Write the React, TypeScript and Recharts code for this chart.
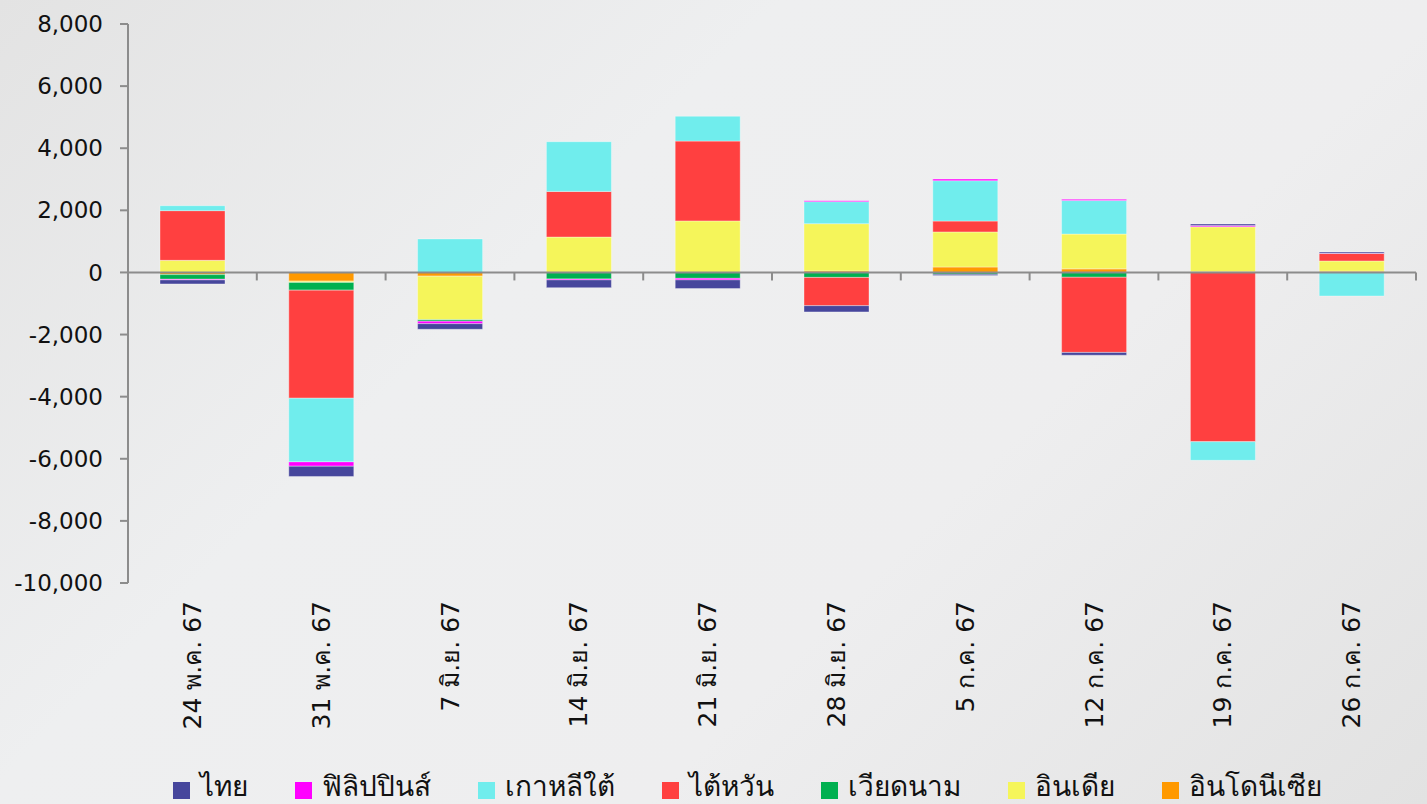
import React from 'react'
import { Bar, BarChart, ReferenceLine, XAxis, YAxis } from 'recharts'

if (typeof document !== 'undefined') document.body.style.margin = '0'

const weeks = [
  '24 พ.ค. 67',
  '31 พ.ค. 67',
  '7 มิ.ย. 67',
  '14 มิ.ย. 67',
  '21 มิ.ย. 67',
  '28 มิ.ย. 67',
  '5 ก.ค. 67',
  '12 ก.ค. 67',
  '19 ก.ค. 67',
  '26 ก.ค. 67',
]

// net flows per market
const thai = [-130, -330, -180, -250, -280, -200, -40, -90, 50, 40]
const philippines = [-20, -140, -80, -30, -50, 30, 50, 40, 40, 10]
const korea = [160, -2050, 1080, 1600, 800, 710, 1300, 1080, -600, -760]
const taiwan = [1600, -3480, 0, 1470, 2570, -910, 350, -2420, -5450, 240]
const vietnam = [-150, -250, -50, -210, -190, -160, -60, -155, 0, 0]
const india = [390, -40, -1400, 1140, 1660, 1520, 1130, 1120, 1450, 330]
const indonesia = [-70, -280, -120, 0, 0, 50, 175, 115, 20, 40]

const yTicks = [-10000, -8000, -6000, -4000, -2000, 0, 2000, 4000, 6000, 8000]

// legend order (left to right)
const series = [
  { key: 'thai', name: 'ไทย', color: '#46469c', values: thai },
  { key: 'philippines', name: 'ฟิลิปปินส์', color: '#ff00ff', values: philippines },
  { key: 'korea', name: 'เกาหลีใต้', color: '#70eded', values: korea },
  { key: 'taiwan', name: 'ไต้หวัน', color: '#ff4040', values: taiwan },
  { key: 'vietnam', name: 'เวียดนาม', color: '#00b050', values: vietnam },
  { key: 'india', name: 'อินเดีย', color: '#f5f55a', values: india },
  { key: 'indonesia', name: 'อินโดนีเซีย', color: '#ff9900', values: indonesia },
]

const data = weeks.map((week, i) => {
  const row: Record<string, string | number> = { week }
  series.forEach((s) => {
    row[s.key] = s.values[i]
  })
  return row
})

const FONT = "Tahoma, 'DejaVu Sans', 'Noto Sans', sans-serif"

function WeekTick(props: any) {
  const { x, y, payload } = props
  const ty = y + 10
  return (
    <text
      x={x}
      y={ty}
      transform={`rotate(-90 ${x} ${ty})`}
      textAnchor="end"
      dominantBaseline="central"
      fontSize={25}
      fontFamily={FONT}
      fill="#111"
    >
      {payload.value}
    </text>
  )
}

// the category axis sits on zero, with ticks between the weeks
function ZeroAxis(props: any) {
  const { x1, y1, x2 } = props
  const n = weeks.length
  const marks = []
  for (let i = 1; i <= n; i++) {
    const x = x1 + ((x2 - x1) * i) / n
    marks.push(<line key={i} x1={x} y1={y1} x2={x} y2={y1 + 8} stroke="#8c8c8c" strokeWidth={2} />)
  }
  return (
    <g>
      <line x1={x1} y1={y1} x2={x2} y2={y1} stroke="#8c8c8c" strokeWidth={2} />
      {marks}
    </g>
  )
}

export default function App() {
  return (
    <div
      style={{
        position: 'relative',
        width: 1427,
        height: 804,
        overflow: 'hidden',
        background: 'linear-gradient(135deg, #e3e3e3 0%, #eeeff0 35%, #eeeeef 65%, #e2e2e2 100%)',
        fontFamily: FONT,
      }}
    >
      <BarChart
        width={1427}
        height={804}
        data={data}
        stackOffset="sign"
        barSize={65}
        margin={{ top: 24, right: 11, bottom: 0, left: 0 }}
      >
        <XAxis
          dataKey="week"
          axisLine={false}
          tickLine={false}
          interval={0}
          height={221}
          tick={<WeekTick />}
        />
        <YAxis
          domain={[-10000, 8000]}
          ticks={yTicks}
          width={128}
          tickSize={8}
          tickMargin={17}
          axisLine={{ stroke: '#8c8c8c', strokeWidth: 2 }}
          tickLine={{ stroke: '#8c8c8c', strokeWidth: 2 }}
          tick={{ fontSize: 23, fill: '#111', fontFamily: FONT }}
          tickFormatter={(v: number) => v.toLocaleString('en-US')}
        />
        {[...series].reverse().map((s) => (
          <Bar
            key={s.key}
            dataKey={s.key}
            name={s.name}
            stackId="flow"
            fill={s.color}
            stroke="rgba(255,255,255,0.35)"
            strokeWidth={1}
            isAnimationActive={false}
          />
        ))}
        <ReferenceLine y={0} shape={<ZeroAxis />} />
      </BarChart>
      <div
        style={{
          position: 'absolute',
          top: 770,
          left: 0,
          width: 1427,
          display: 'flex',
          justifyContent: 'center',
          gap: 47,
          paddingLeft: 67,
          boxSizing: 'border-box',
          fontSize: 28,
          color: '#111',
          lineHeight: '34px',
        }}
      >
        {series.map((s) => (
          <div key={s.key} style={{ display: 'flex', alignItems: 'center' }}>
            <span
              style={{ display: 'inline-block', width: 17, height: 17, background: s.color, marginRight: 10, marginTop: 6 }}
            />
            <span>{s.name}</span>
          </div>
        ))}
      </div>
    </div>
  )
}
